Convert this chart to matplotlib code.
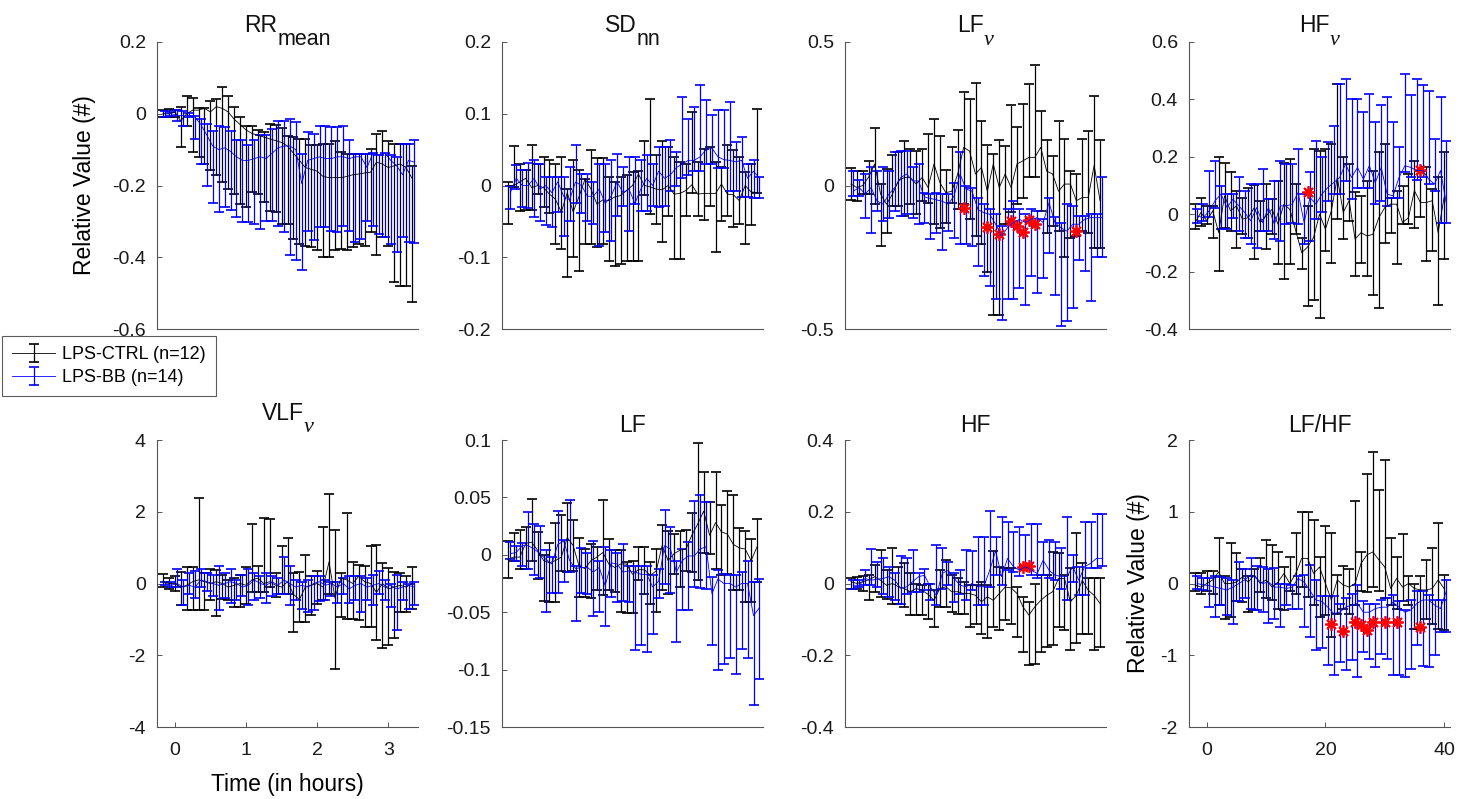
import numpy as np
import matplotlib
matplotlib.use("Agg")
import matplotlib.pyplot as plt
from matplotlib.ticker import FuncFormatter

plt.rcParams['font.family'] = ['Liberation Sans', 'DejaVu Sans']
plt.rcParams['axes.unicode_minus'] = False

# 5-minute bins, 12 per hour, from -2 to 40
idx = np.arange(-2, 41)
bb_shift = 0.4

# ---- RR mean
rr_ctrl_mean = [0.0, 0.0, 0.005, -0.02, 0.0, 0.01, 0.01, 0.015, 0.005, 0.02, 0.015, 0.005, -0.015, -0.03, -0.045, -0.055, -0.06, -0.065, -0.07, -0.075, -0.08, -0.09, -0.11, -0.13, -0.15, -0.155, -0.16, -0.175, -0.178, -0.178, -0.178, -0.175, -0.17, -0.168, -0.165, -0.163, -0.135, -0.14, -0.15, -0.145, -0.14, -0.15, -0.18]
rr_ctrl_hi = [0.01, 0.012, 0.01, 0.02, 0.05, 0.045, 0.015, 0.015, 0.035, 0.04, 0.075, 0.05, 0.02, -0.01, -0.035, -0.035, -0.045, -0.05, -0.028, -0.03, -0.04, -0.062, -0.065, -0.07, -0.07, -0.088, -0.088, -0.083, -0.083, -0.075, -0.107, -0.112, -0.112, -0.112, -0.112, -0.098, -0.056, -0.047, -0.075, -0.084, -0.084, -0.084, -0.145]
rr_ctrl_lo = [-0.01, -0.008, -0.01, -0.093, -0.033, -0.107, -0.12, -0.14, -0.158, -0.172, -0.19, -0.21, -0.223, -0.251, -0.26, -0.218, -0.223, -0.246, -0.27, -0.274, -0.307, -0.307, -0.35, -0.363, -0.368, -0.372, -0.381, -0.398, -0.4, -0.381, -0.377, -0.381, -0.372, -0.363, -0.368, -0.33, -0.395, -0.344, -0.37, -0.47, -0.48, -0.48, -0.525]
rr_bb_mean = [0.0, 0.0, -0.005, -0.005, -0.005, -0.01, -0.03, -0.06, -0.09, -0.1, -0.095, -0.105, -0.12, -0.13, -0.13, -0.125, -0.12, -0.125, -0.11, -0.095, -0.09, -0.09, -0.1, -0.195, -0.13, -0.125, -0.12, -0.125, -0.125, -0.12, -0.12, -0.125, -0.12, -0.12, -0.15, -0.11, -0.115, -0.11, -0.13, -0.145, -0.17, -0.13, -0.135]
rr_bb_hi = [0.008, 0.006, 0.01, 0.008, 0.002, -0.005, -0.014, -0.028, -0.047, -0.033, -0.037, -0.047, -0.074, -0.074, -0.088, -0.074, -0.06, -0.06, -0.042, -0.019, -0.019, -0.014, -0.023, -0.112, -0.051, -0.056, -0.033, -0.033, -0.037, -0.037, -0.033, -0.074, -0.112, -0.112, -0.112, -0.112, -0.116, -0.112, -0.116, -0.121, -0.084, -0.084, -0.074]
rr_bb_lo = [-0.008, -0.006, -0.02, -0.033, -0.01, -0.07, -0.14, -0.2, -0.25, -0.275, -0.26, -0.269, -0.288, -0.302, -0.302, -0.307, -0.321, -0.298, -0.3, -0.312, -0.33, -0.395, -0.407, -0.435, -0.326, -0.353, -0.316, -0.316, -0.326, -0.33, -0.312, -0.326, -0.358, -0.349, -0.3, -0.312, -0.335, -0.344, -0.363, -0.386, -0.344, -0.358, -0.36]

# ---- SDnn
sd_ctrl_mean = [0.0, 0.0, 0.005, 0.01, -0.003, 0.0, -0.003, -0.012, -0.019, -0.037, -0.01, -0.037, -0.015, 0.009, -0.005, -0.026, -0.02, -0.021, -0.016, -0.014, -0.007, 0.0, 0.016, 0.0, -0.002, -0.005, -0.006, 0.0, -0.012, -0.011, -0.007, 0.001, -0.012, -0.011, -0.011, -0.011, 0.002, -0.012, -0.013, -0.021, 0.0, -0.009, -0.01]
sd_ctrl_hi = [0.005, 0.055, 0.03, 0.022, 0.056, 0.03, 0.04, 0.036, 0.03, 0.04, -0.005, 0.035, 0.021, 0.009, 0.05, 0.038, 0.038, 0.012, 0.005, 0.012, 0.015, 0.019, 0.02, 0.062, 0.12, 0.043, 0.062, 0.054, 0.04, 0.033, 0.03, 0.103, 0.033, 0.051, 0.054, 0.033, 0.026, 0.056, 0.05, 0.04, 0.019, 0.03, 0.106]
sd_ctrl_lo = [-0.053, -0.002, -0.035, -0.034, -0.034, -0.012, -0.03, -0.039, -0.081, -0.088, -0.128, -0.1, -0.119, -0.081, -0.081, -0.086, -0.081, -0.105, -0.112, -0.109, -0.105, -0.105, -0.105, -0.013, -0.04, -0.053, -0.079, -0.042, -0.102, -0.102, -0.042, -0.011, -0.042, -0.048, -0.028, -0.093, -0.049, -0.042, -0.058, -0.053, -0.081, -0.055, -0.011]
sd_bb_mean = [-0.01, 0.01, 0.0, 0.0, 0.01, -0.005, 0.0, -0.01, 0.005, -0.015, -0.02, 0.005, 0.0, -0.015, -0.015, -0.005, -0.025, -0.015, 0.005, -0.01, -0.005, -0.025, -0.005, 0.01, 0.0, 0.02, 0.01, 0.015, 0.025, 0.03, 0.035, 0.035, 0.04, 0.05, 0.052, 0.04, 0.036, 0.035, 0.033, 0.035, 0.01, 0.02, 0.01]
sd_bb_hi = [0.0, 0.028, 0.021, 0.032, 0.035, 0.03, 0.012, 0.012, 0.012, 0.012, 0.026, 0.056, 0.016, 0.016, 0.005, 0.03, 0.03, 0.035, 0.044, 0.026, 0.04, 0.04, 0.035, 0.042, 0.03, 0.053, 0.053, 0.063, 0.047, 0.123, 0.093, 0.109, 0.14, 0.119, 0.098, 0.105, 0.105, 0.116, 0.06, 0.067, 0.03, 0.035, 0.012]
sd_bb_lo = [-0.033, -0.005, -0.03, -0.032, -0.044, -0.049, -0.055, -0.058, -0.037, -0.07, -0.05, -0.025, -0.039, -0.049, -0.053, -0.084, -0.065, -0.077, -0.042, -0.028, -0.063, -0.026, -0.035, -0.035, -0.028, -0.03, -0.028, -0.007, 0.0, 0.01, 0.015, 0.02, 0.02, 0.03, 0.03, 0.025, 0.025, -0.007, -0.007, -0.016, -0.016, -0.018, -0.018]

# ---- LF nu
lfn_ctrl_mean = [0.005, -0.007, 0.0, 0.03, 0.075, -0.03, -0.065, -0.03, 0.016, 0.028, 0.028, 0.005, 0.028, -0.007, 0.075, 0.01, -0.025, -0.02, 0.04, 0.133, 0.12, 0.04, 0.063, -0.02, 0.075, -0.007, 0.04, -0.007, 0.075, 0.086, 0.098, 0.098, 0.133, 0.05, 0.04, -0.02, 0.005, 0.005, -0.053, -0.042, -0.042, 0.07, -0.053]
lfn_ctrl_hi = [0.06, 0.05, 0.05, 0.085, 0.2, 0.005, 0.057, 0.105, 0.116, 0.156, 0.127, 0.121, 0.127, 0.18, 0.23, 0.174, 0.054, 0.133, 0.193, 0.325, 0.302, 0.357, 0.226, 0.14, 0.11, 0.157, 0.139, 0.279, 0.203, 0.285, 0.354, 0.42, 0.26, 0.157, 0.104, 0.226, 0.162, 0.05, 0.04, 0.162, 0.19, 0.313, 0.157]
lfn_ctrl_lo = [-0.05, -0.055, -0.03, -0.03, -0.065, -0.21, -0.164, -0.071, -0.071, -0.106, -0.065, -0.1, -0.054, -0.06, -0.135, -0.147, -0.129, -0.06, -0.083, -0.065, -0.118, -0.176, -0.205, -0.3, -0.45, -0.45, -0.135, -0.094, -0.065, -0.042, 0.028, 0.028, -0.088, -0.164, -0.14, -0.159, -0.25, -0.182, -0.176, -0.159, -0.164, -0.217, -0.217]
lfn_bb_mean = [-0.02, -0.007, -0.03, -0.007, -0.054, -0.065, -0.03, -0.007, 0.028, 0.04, 0.016, 0.016, -0.04, -0.045, -0.05, -0.055, -0.065, -0.036, 0.04, -0.013, -0.019, -0.083, -0.095, -0.1, -0.135, -0.176, -0.147, -0.129, -0.118, -0.129, -0.118, -0.112, -0.129, -0.06, -0.13, -0.147, -0.159, -0.135, -0.135, -0.118, -0.112, -0.112, -0.112]
lfn_bb_hi = [0.05, 0.02, 0.04, 0.063, 0.05, 0.063, 0.05, 0.115, 0.121, 0.121, 0.063, 0.075, -0.025, -0.03, -0.025, -0.03, -0.03, 0.01, 0.115, 0.0, -0.01, -0.042, -0.065, -0.083, -0.1, -0.141, -0.083, -0.054, -0.083, -0.1, -0.083, -0.09, -0.118, -0.045, -0.11, -0.129, -0.065, -0.071, -0.106, -0.106, -0.1, -0.1, 0.028]
lfn_bb_lo = [-0.036, -0.036, -0.112, -0.164, -0.088, -0.123, -0.112, -0.088, -0.106, -0.1, -0.112, -0.135, -0.129, -0.188, -0.164, -0.223, -0.159, -0.182, -0.205, -0.205, -0.211, -0.28, -0.316, -0.35, -0.397, -0.467, -0.397, -0.397, -0.357, -0.415, -0.316, -0.374, -0.322, -0.234, -0.38, -0.49, -0.473, -0.427, -0.261, -0.298, -0.403, -0.25, -0.25]
lfn_star_x = [17, 21, 23, 25, 26, 27, 28, 29, 36]
lfn_star_y = [-0.077, -0.143, -0.168, -0.124, -0.141, -0.162, -0.121, -0.135, -0.158]

# ---- HF nu
hfn_ctrl_mean = [-0.03, 0.006, -0.023, 0.012, -0.064, 0.064, 0.012, 0.029, -0.017, -0.012, 0.023, -0.029, -0.006, 0.017, -0.035, 0.035, 0.017, -0.058, -0.134, -0.114, -0.081, 0.0, -0.052, 0.012, 0.128, 0.006, 0.047, -0.087, -0.064, -0.076, -0.07, -0.012, 0.023, 0.035, 0.035, -0.029, -0.012, 0.082, 0.041, 0.041, 0.047, -0.064, 0.058]
hfn_ctrl_hi = [0.035, 0.058, 0.03, 0.029, 0.2, 0.18, 0.146, 0.08, 0.058, 0.093, 0.103, 0.046, 0.105, 0.052, 0.117, 0.18, 0.192, 0.105, -0.082, 0.029, 0.227, 0.22, 0.227, 0.245, 0.455, 0.198, 0.175, 0.076, 0.064, 0.117, 0.152, 0.215, 0.245, 0.058, 0.082, 0.099, 0.14, 0.186, 0.152, 0.163, 0.087, 0.128, 0.215]
hfn_ctrl_lo = [-0.052, -0.041, -0.035, -0.082, -0.198, -0.047, -0.058, -0.117, -0.07, -0.082, -0.157, -0.058, -0.122, -0.07, -0.175, -0.227, -0.175, -0.07, -0.192, -0.32, -0.3, -0.36, -0.128, -0.169, -0.017, -0.087, -0.023, -0.216, -0.169, -0.216, -0.28, -0.326, -0.099, -0.064, -0.175, -0.035, -0.035, -0.047, -0.01, -0.163, -0.128, -0.315, -0.157]
hfn_bb_mean = [-0.006, -0.012, 0.012, 0.047, 0.07, 0.023, 0.052, 0.029, 0.006, -0.023, 0.023, -0.029, 0.023, -0.035, 0.029, 0.029, 0.035, 0.076, -0.029, 0.058, 0.035, 0.07, 0.093, 0.11, 0.128, 0.175, 0.128, 0.163, 0.122, 0.169, 0.11, 0.163, 0.07, 0.064, 0.128, 0.169, 0.163, 0.152, 0.152, 0.122, 0.105, 0.152, 0.035]
hfn_bb_hi = [0.017, 0.035, 0.152, 0.186, 0.1, 0.07, 0.07, 0.128, 0.082, 0.105, 0.105, 0.157, 0.052, 0.117, 0.186, 0.175, 0.175, 0.227, 0.07, 0.146, 0.256, 0.2, 0.25, 0.309, 0.455, 0.472, 0.402, 0.402, 0.355, 0.42, 0.32, 0.379, 0.408, 0.32, 0.233, 0.49, 0.414, 0.472, 0.449, 0.431, 0.262, 0.408, 0.256]
hfn_bb_lo = [-0.03, -0.023, -0.01, 0.023, -0.052, -0.052, -0.012, -0.058, -0.082, -0.105, -0.117, -0.058, -0.058, -0.087, -0.093, -0.035, -0.029, -0.035, -0.105, -0.093, -0.017, 0.006, 0.047, 0.07, 0.07, 0.117, 0.052, 0.093, 0.093, 0.093, 0.035, 0.047, 0.03, 0.058, 0.058, 0.146, 0.128, 0.12, 0.128, 0.105, 0.08, -0.029, -0.029]
hfn_star_x = [17, 36]
hfn_star_y = [0.079, 0.155]

# ---- VLF nu
vlf_ctrl_mean = [0.05, 0.0, 0.0, -0.1, -0.05, 0.05, 0.1, 0.05, 0.0, 0.05, 0.0, -0.1, -0.05, 0.0, -0.05, 0.1, 0.15, 0.0, 0.05, -0.05, -0.1, 0.05, -0.3, -0.45, -0.1, -0.05, 0.0, -0.1, 0.6, -0.4, 0.15, 0.1, 0.0, 0.2, 0.05, 0.0, -0.25, 0.0, -0.15, -0.1, -0.05, -0.1, 0.0]
vlf_ctrl_hi = [0.26, 0.15, 0.2, 0.33, 0.45, 0.47, 2.37, 0.28, 0.4, 0.37, 0.23, 0.1, 0.14, 0.23, 0.47, 1.67, 0.48, 1.83, 1.79, 0.3, 1.04, 1.26, 0.28, 0.31, 0.79, 0.2, 0.35, 1.58, 2.5, 1.49, 0.3, 1.97, 0.6, 0.51, 0.48, 1.04, 1.07, 0.58, 0.42, 0.33, 0.3, 0.2, 0.45]
vlf_ctrl_lo = [-0.1, -0.15, -0.2, -0.6, -0.74, -0.74, -0.74, -0.74, -0.47, -0.91, -0.42, -0.45, -0.65, -0.65, -0.56, -0.23, -0.23, -0.23, -0.09, -0.37, -0.28, -0.3, -1.35, -1.07, -1.07, -0.88, -0.56, -0.47, -0.3, -2.37, -0.93, -0.98, -0.98, -1.02, -1.2, -1.2, -1.58, -1.81, -1.72, -1.53, -0.79, -0.79, -0.7]
vlf_bb_mean = [0.0, -0.05, 0.0, -0.1, -0.05, -0.1, 0.1, 0.05, 0.0, -0.05, 0.0, 0.05, 0.0, -0.1, -0.05, 0.1, 0.0, -0.05, 0.05, -0.05, 0.1, 0.0, -0.1, -0.05, -0.1, 0.0, 0.05, -0.05, 0.0, -0.1, 0.0, -0.15, -0.05, 0.0, -0.1, -0.05, 0.0, -0.1, -0.05, -0.15, -0.1, -0.05, -0.1]
vlf_bb_hi = [0.05, 0.05, 0.4, 0.1, 0.3, 0.35, 0.4, 0.3, 0.25, 0.5, 0.3, 0.4, 0.1, 0.25, 0.4, 0.3, 0.2, 0.3, 0.2, 0.15, 0.75, 0.5, 0.1, 0.05, 0.1, 0.2, 0.2, 0.1, 0.05, 0.05, 0.15, 0.2, 0.2, 0.2, 0.15, 0.25, 0.35, 0.1, 0.0, 0.25, 0.05, 0.0, 0.05]
vlf_bb_lo = [-0.05, -0.1, -0.1, -0.6, -0.3, -0.4, -0.1, -0.2, -0.35, -0.75, -0.4, -0.55, -0.45, -0.35, -0.6, -0.45, -0.4, -0.55, -0.35, -0.3, -0.3, -0.6, -0.45, -0.7, -0.8, -0.75, -0.5, -0.45, -0.35, -0.55, -0.3, -0.55, -0.45, -0.8, -0.45, -0.6, -0.3, -0.45, -0.65, -1.3, -0.45, -0.7, -0.6]

# ---- LF
lf_ctrl_mean = [-0.004, -0.002, -0.002, 0.01, 0.011, 0.004, -0.005, -0.007, -0.005, -0.002, 0.015, 0.008, -0.01, -0.012, -0.005, -0.002, 0.002, -0.008, -0.011, -0.008, -0.008, -0.017, -0.013, -0.013, -0.018, -0.014, 0.008, -0.005, 0.001, 0.004, 0.005, 0.017, 0.027, 0.038, 0.017, 0.028, 0.02, 0.018, 0.009, 0.006, 0.005, -0.005, 0.007]
lf_ctrl_hi = [0.012, 0.019, 0.022, 0.024, 0.049, 0.02, 0.0, 0.01, 0.028, 0.035, 0.045, 0.03, 0.015, 0.005, 0.009, 0.007, 0.048, 0.014, 0.004, 0.004, -0.006, -0.005, 0.007, 0.007, -0.006, 0.005, 0.026, 0.021, 0.018, 0.021, 0.022, 0.036, 0.097, 0.072, 0.046, 0.072, 0.043, 0.056, 0.052, 0.023, 0.021, 0.014, 0.031]
lf_ctrl_lo = [-0.02, -0.005, -0.012, -0.012, -0.005, -0.021, -0.04, -0.041, -0.041, -0.014, -0.015, -0.014, -0.037, -0.037, -0.038, -0.031, -0.035, -0.031, -0.032, -0.05, -0.051, -0.051, -0.022, -0.034, -0.043, -0.05, -0.031, -0.034, -0.017, -0.028, -0.014, -0.015, -0.022, 0.002, 0.001, -0.012, -0.018, -0.017, -0.031, -0.031, -0.041, -0.041, -0.024]
lf_bb_mean = [0.001, 0.002, 0.008, 0.008, 0.005, 0.001, -0.004, -0.008, 0.009, 0.012, -0.005, -0.012, -0.011, -0.011, -0.015, -0.011, -0.027, -0.007, -0.008, -0.015, -0.014, -0.015, -0.017, -0.017, -0.028, -0.023, 0.008, 0.005, -0.015, -0.005, -0.001, -0.001, 0.005, 0.007, -0.034, -0.021, -0.025, -0.025, -0.028, -0.025, -0.025, -0.053, -0.046]
lf_bb_hi = [0.011, 0.008, 0.01, 0.037, 0.027, 0.025, 0.004, -0.002, 0.038, 0.013, 0.048, -0.01, 0.006, 0.002, 0.012, -0.005, 0.007, 0.004, 0.002, 0.009, -0.01, -0.01, -0.01, -0.01, -0.018, -0.012, 0.039, 0.024, -0.005, 0.005, 0.011, 0.047, 0.052, 0.046, -0.019, -0.013, -0.017, -0.018, -0.018, -0.015, -0.005, -0.024, -0.021]
lf_bb_lo = [-0.004, -0.005, -0.01, -0.012, -0.018, -0.02, -0.05, -0.033, -0.033, -0.024, -0.015, -0.058, -0.033, -0.034, -0.053, -0.05, -0.062, -0.037, -0.041, -0.04, -0.041, -0.083, -0.079, -0.085, -0.069, -0.038, -0.025, -0.033, -0.076, -0.048, -0.048, -0.028, -0.029, -0.03, -0.079, -0.1, -0.095, -0.09, -0.104, -0.082, -0.09, -0.131, -0.108]

# ---- HF
hf_ctrl_mean = [0.005, 0.0, 0.005, 0.01, 0.019, 0.009, -0.005, 0.0, -0.009, -0.014, -0.023, -0.014, -0.019, -0.03, -0.047, -0.014, -0.009, -0.023, -0.023, -0.028, -0.028, -0.033, -0.051, -0.037, -0.047, -0.028, -0.01, -0.012, -0.028, -0.065, -0.088, -0.065, -0.047, -0.033, -0.023, 0.014, 0.014, -0.051, -0.033, 0.009, -0.019, -0.033, -0.056]
hf_ctrl_hi = [0.014, 0.018, 0.02, 0.023, 0.051, 0.093, 0.037, 0.098, 0.047, 0.056, 0.028, 0.0, -0.005, 0.0, -0.019, 0.037, 0.065, 0.023, 0.014, 0.005, -0.005, -0.005, 0.005, -0.005, 0.091, 0.047, 0.042, 0.042, -0.01, -0.037, -0.051, 0.0, 0.023, 0.023, 0.088, 0.084, 0.023, 0.042, 0.14, 0.056, 0.014, 0.014, 0.014]
hf_ctrl_lo = [-0.014, -0.014, -0.02, -0.045, -0.023, -0.037, -0.042, -0.056, -0.056, -0.065, -0.088, -0.088, -0.088, -0.1, -0.121, -0.065, -0.065, -0.079, -0.084, -0.084, -0.121, -0.112, -0.14, -0.153, -0.121, -0.13, -0.102, -0.112, -0.15, -0.19, -0.228, -0.223, -0.19, -0.177, -0.172, -0.121, -0.13, -0.186, -0.167, -0.14, -0.14, -0.186, -0.177]
hf_bb_mean = [-0.005, -0.005, 0.014, 0.009, 0.012, 0.014, 0.019, 0.009, -0.014, -0.009, 0.005, 0.019, 0.023, -0.01, -0.033, 0.028, 0.037, 0.014, -0.005, -0.009, 0.0, -0.009, -0.009, 0.037, 0.091, 0.019, 0.07, 0.047, 0.037, 0.047, 0.037, 0.028, 0.065, 0.037, 0.023, 0.02, 0.019, 0.047, 0.009, 0.047, 0.056, 0.07, 0.07]
hf_bb_hi = [0.009, 0.009, 0.039, 0.095, 0.06, 0.072, 0.045, 0.028, 0.076, 0.07, 0.093, 0.028, 0.04, 0.0, 0.107, 0.098, 0.06, 0.03, 0.037, 0.093, 0.091, 0.13, 0.13, 0.203, 0.13, 0.186, 0.172, 0.144, 0.158, 0.135, 0.165, 0.167, 0.116, 0.121, 0.116, 0.1, 0.186, 0.08, 0.047, 0.172, 0.172, 0.195, 0.195]
hf_bb_lo = [-0.014, -0.009, -0.005, -0.005, -0.009, -0.028, -0.037, -0.047, -0.056, -0.028, -0.023, -0.023, -0.019, -0.047, -0.06, -0.014, -0.005, -0.051, -0.028, -0.047, -0.019, -0.06, -0.06, -0.009, 0.023, -0.005, 0.037, 0.033, 0.02, 0.042, 0.023, 0.015, 0.023, 0.014, 0.01, -0.014, -0.047, 0.005, -0.033, -0.033, 0.042, 0.042, 0.05]
hf_star_x = [27, 28]
hf_star_y = [0.045, 0.048]

# ---- LF/HF
ratio_ctrl_mean = [-0.02, -0.05, 0.0, 0.05, 0.16, 0.0, 0.0, 0.02, 0.09, 0.02, 0.12, 0.0, 0.05, -0.05, 0.02, 0.14, 0.0, 0.14, 0.35, 0.35, 0.14, 0.23, 0.0, -0.23, 0.05, -0.02, -0.05, 0.0, 0.28, 0.4, 0.44, 0.33, 0.23, -0.07, 0.07, -0.05, 0.0, -0.07, -0.09, -0.09, -0.07, 0.05, -0.07]
ratio_ctrl_hi = [0.15, 0.14, 0.18, 0.18, 0.64, 0.1, 0.56, 0.43, 0.2, 0.1, 0.2, 0.36, 0.6, 0.53, 0.44, 0.23, 0.37, 0.7, 0.99, 0.99, 0.89, 0.37, 0.8, 0.7, 0.12, 0.25, 0.2, 1.15, 0.44, 1.52, 1.83, 1.3, 1.72, 0.64, 0.37, 0.69, 0.1, 0.0, 0.1, 0.33, 0.5, 0.84, 0.12]
ratio_ctrl_lo = [-0.1, -0.14, -0.1, -0.15, -0.3, -0.5, -0.47, -0.25, -0.26, -0.4, -0.37, -0.12, -0.2, -0.23, -0.35, -0.37, -0.1, -0.14, -0.05, -0.19, -0.3, -0.47, -0.44, -0.74, -0.42, -0.35, -0.42, -0.3, -0.1, -0.12, -0.05, -0.1, -0.2, -0.3, -0.35, -0.25, -0.3, -0.63, -0.63, -0.49, -0.56, -0.63, -0.65]
ratio_bb_mean = [0.0, -0.02, -0.03, -0.05, -0.07, -0.09, -0.05, 0.0, 0.05, 0.12, 0.07, 0.0, 0.02, -0.05, -0.05, -0.07, -0.05, 0.07, 0.02, -0.1, -0.23, -0.25, -0.33, -0.42, -0.4, -0.33, -0.3, -0.28, -0.4, -0.4, -0.35, -0.33, -0.33, -0.26, -0.33, -0.4, -0.37, -0.28, -0.23, -0.23, -0.3, -0.35, -0.1]
ratio_bb_hi = [0.1, 0.08, 0.07, 0.1, 0.09, 0.07, 0.05, 0.3, 0.2, 0.35, 0.25, 0.23, 0.2, 0.22, 0.0, 0.0, -0.02, 0.1, 0.12, 0.26, 0.05, -0.18, -0.18, -0.18, -0.28, -0.2, -0.14, -0.02, -0.25, -0.28, -0.28, -0.23, -0.2, -0.16, -0.25, -0.37, -0.23, -0.1, -0.1, -0.16, -0.23, -0.23, 0.05]
ratio_bb_lo = [-0.07, -0.09, -0.33, -0.46, -0.3, -0.44, -0.56, -0.25, -0.2, -0.35, -0.37, -0.4, -0.55, -0.49, -0.6, -0.3, -0.35, -0.35, -0.6, -0.74, -0.93, -0.9, -1.13, -1.28, -1.1, -1.21, -1.06, -1.3, -0.95, -1.05, -1.17, -0.98, -1.05, -1.27, -1.27, -1.31, -1.19, -0.86, -1.15, -1.16, -1.0, -0.67, -0.67]
ratio_star_x = [21, 23, 25, 26, 27, 28, 30, 32, 36]
ratio_star_y = [-0.57, -0.66, -0.53, -0.58, -0.65, -0.53, -0.53, -0.53, -0.61]

# titles: (main part, subscript)
titles = [('RR', 'mean'), ('SD', 'nn'), ('LF', '\u03bd'), ('HF', '\u03bd'),
          ('VLF', '\u03bd'), ('LF', ''), ('HF', ''), ('LF/HF', '')]
ylims = [(-0.6, 0.2), (-0.2, 0.2), (-0.5, 0.5), (-0.4, 0.6),
         (-4, 4), (-0.15, 0.1), (-0.4, 0.4), (-2, 2)]
yticks = [[-0.6, -0.4, -0.2, 0, 0.2], [-0.2, -0.1, 0, 0.1, 0.2], [-0.5, 0, 0.5],
          [-0.4, -0.2, 0, 0.2, 0.4, 0.6], [-4, -2, 0, 2, 4],
          [-0.15, -0.1, -0.05, 0, 0.05, 0.1], [-0.4, -0.2, 0, 0.2, 0.4], [-2, -1, 0, 1, 2]]
hour_ticks = [0, 1, 2, 3]
index_ticks = [0, 20, 40]
legend_labels = ['LPS-CTRL (n=12)', 'LPS-BB (n=14)']

panels = [
    (rr_ctrl_mean, rr_ctrl_lo, rr_ctrl_hi, rr_bb_mean, rr_bb_lo, rr_bb_hi, None, None),
    (sd_ctrl_mean, sd_ctrl_lo, sd_ctrl_hi, sd_bb_mean, sd_bb_lo, sd_bb_hi, None, None),
    (lfn_ctrl_mean, lfn_ctrl_lo, lfn_ctrl_hi, lfn_bb_mean, lfn_bb_lo, lfn_bb_hi, lfn_star_x, lfn_star_y),
    (hfn_ctrl_mean, hfn_ctrl_lo, hfn_ctrl_hi, hfn_bb_mean, hfn_bb_lo, hfn_bb_hi, hfn_star_x, hfn_star_y),
    (vlf_ctrl_mean, vlf_ctrl_lo, vlf_ctrl_hi, vlf_bb_mean, vlf_bb_lo, vlf_bb_hi, None, None),
    (lf_ctrl_mean, lf_ctrl_lo, lf_ctrl_hi, lf_bb_mean, lf_bb_lo, lf_bb_hi, None, None),
    (hf_ctrl_mean, hf_ctrl_lo, hf_ctrl_hi, hf_bb_mean, hf_bb_lo, hf_bb_hi, hf_star_x, hf_star_y),
    (ratio_ctrl_mean, ratio_ctrl_lo, ratio_ctrl_hi, ratio_bb_mean, ratio_bb_lo, ratio_bb_hi, ratio_star_x, ratio_star_y),
]

W, H = 1459, 799
fig = plt.figure(figsize=(W / 100, H / 100), dpi=100)
renderer = fig.canvas.get_renderer()

col_left = [157, 502, 845, 1189]
row_top = [42, 440]
ax_w, ax_h = 261, 287
axis_col = '#555555'
# title baselines (px above the axes top): main part, subscript
title_base = [(10, -3), (20, 8)]


def errbars(ax, x, m, lo, hi, color):
    m, lo, hi = np.asarray(m), np.asarray(lo), np.asarray(hi)
    yerr = np.vstack([np.clip(m - lo, 0, None), np.clip(hi - m, 0, None)])
    return ax.errorbar(x, m, yerr=yerr, color=color, lw=0.6, elinewidth=0.9,
                       capsize=3.6, capthick=1.2)


def put_title(ax, main, sub, row):
    b_main, b_sub = title_base[row]
    if not sub:
        b_main = b_sub
    t1 = ax.text(0.5, 1 + b_main / ax_h, main, transform=ax.transAxes,
                 ha='left', va='baseline', fontsize=16.5, color='#111111')
    w1 = t1.get_window_extent(renderer).width
    w2 = 0
    t2 = None
    if sub:
        if sub == '\u03bd':
            t2 = ax.text(0.5, 1 + b_sub / ax_h, sub, transform=ax.transAxes,
                         ha='left', va='baseline', fontsize=16,
                         family='Liberation Serif', style='italic', color='#111111')
        else:
            t2 = ax.text(0.5, 1 + b_sub / ax_h, sub, transform=ax.transAxes,
                         ha='left', va='baseline', fontsize=15.5, color='#111111')
        w2 = t2.get_window_extent(renderer).width
    x0 = 0.5 - (w1 + w2) / 2 / ax_w
    t1.set_x(x0)
    if t2 is not None:
        t2.set_x(x0 + w1 / ax_w)


fmt = FuncFormatter(lambda v, p: '%g' % v)
handles = None
for k, (cm, clo, chi, bm, blo, bhi, sx, sy) in enumerate(panels):
    r, c = divmod(k, 4)
    rect = [col_left[c] / W, 1 - (row_top[r] + ax_h) / H, ax_w / W, ax_h / H]
    ax = fig.add_axes(rect)

    scale = 12.0 if k == 4 else 1.0   # VLF panel is drawn in hours
    h1 = errbars(ax, idx / scale, cm, clo, chi, 'k')
    h2 = errbars(ax, (idx + bb_shift) / scale, bm, blo, bhi, '#0000ff')
    if sx is not None:
        ax.plot(np.array(sx) / scale, sy, ls='none', marker=(8, 2, 0), ms=9,
                mew=1.3, color='red')
    if k == 0:
        handles = [h1, h2]

    ax.set_xlim(-3 / scale, 41 / scale)
    ax.set_ylim(*ylims[k])
    ax.set_yticks(yticks[k])
    ax.yaxis.set_major_formatter(fmt)
    for s in ['top', 'right']:
        ax.spines[s].set_visible(False)
    for s in ['left', 'bottom']:
        ax.spines[s].set_color(axis_col)
        ax.spines[s].set_linewidth(0.8)
    ax.tick_params(axis='both', direction='in', length=3.5, width=0.7,
                   color=axis_col, labelsize=14, labelcolor='#1a1a1a')
    ax.tick_params(axis='y', pad=8)
    if k == 4:
        ax.set_xticks(hour_ticks)
        ax.tick_params(axis='x', pad=11)
        ax.set_xlabel('Time (in hours)', fontsize=16.5, labelpad=10)
    elif k == 7:
        ax.set_xticks(index_ticks)
        ax.tick_params(axis='x', pad=11)
    else:
        ax.tick_params(axis='x', bottom=False, labelbottom=False)
    put_title(ax, titles[k][0], titles[k][1], r)
    if k == 0:
        ax.set_ylabel('Relative Value (#)', fontsize=16.5)
        ax.yaxis.set_label_coords(-0.235, 0.5)
    if k == 7:
        ax.set_ylabel('Relative Value (#)', fontsize=16.5)
        ax.yaxis.set_label_coords(-0.15, 0.5)

leg = fig.legend(handles, legend_labels, loc='upper left',
                 bbox_to_anchor=(2 / W, 1 - 336 / H), bbox_transform=fig.transFigure,
                 fontsize=13, frameon=True, fancybox=False, borderaxespad=0,
                 borderpad=0.55, handlelength=2.4, handletextpad=0.4, labelspacing=0.33)
leg.get_frame().set_edgecolor('#333333')
leg.get_frame().set_linewidth(0.8)

fig.savefig('out.png', dpi=100)
